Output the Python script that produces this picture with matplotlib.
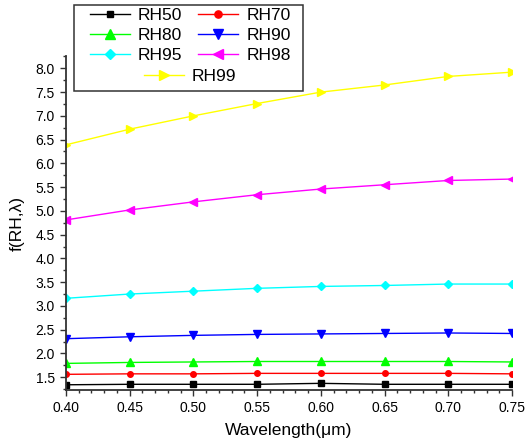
import numpy as np
import matplotlib
matplotlib.use("Agg")
import matplotlib.pyplot as plt
from matplotlib.patches import Rectangle
from matplotlib.ticker import MultipleLocator

plt.rcParams['font.family'] = ['Liberation Sans', 'DejaVu Sans']

# wavelength in micrometres
wavelength = [0.40, 0.45, 0.50, 0.55, 0.60, 0.65, 0.70, 0.75]

rh50 = [1.34, 1.35, 1.35, 1.35, 1.37, 1.35, 1.35, 1.35]
rh70 = [1.56, 1.57, 1.57, 1.58, 1.58, 1.58, 1.58, 1.57]
rh80 = [1.79, 1.81, 1.82, 1.83, 1.83, 1.83, 1.83, 1.82]
rh90 = [2.31, 2.35, 2.38, 2.40, 2.41, 2.42, 2.43, 2.42]
rh95 = [3.16, 3.25, 3.31, 3.37, 3.41, 3.43, 3.46, 3.46]
rh98 = [4.81, 5.02, 5.19, 5.34, 5.46, 5.55, 5.64, 5.67]
rh99 = [6.39, 6.72, 7.00, 7.26, 7.50, 7.65, 7.83, 7.92]

labels = ['RH50', 'RH70', 'RH80', 'RH90', 'RH95', 'RH98', 'RH99']
series = [rh50, rh70, rh80, rh90, rh95, rh98, rh99]
colors = ['#000000', '#ff0000', '#00ff00', '#0000ff', '#00ffff', '#ff00ff', '#ffff00']
markers = ['s', 'o', '^', 'v', 'D', '<', '>']
msizes = [3.8, 4.0, 5.6, 5.8, 4.2, 5.8, 5.8]

W, H = 529, 444
fig = plt.figure(figsize=(W / 100, H / 100), dpi=100)
ax = fig.add_axes([66 / W, 1 - 390 / H, (512 - 66) / W, (390 - 56) / H])

lines = []
for y, lab, c, m, ms in zip(series, labels, colors, markers, msizes):
    ln, = ax.plot(wavelength, y, color=c, marker=m, markersize=ms,
                  linewidth=1.0, label=lab)
    lines.append(ln)

ax.set_xlim(0.40, 0.75)
ax.set_ylim(1.23, 8.26)
ax.xaxis.set_major_locator(MultipleLocator(0.05))
ax.xaxis.set_minor_locator(MultipleLocator(0.01))
ax.yaxis.set_major_locator(MultipleLocator(0.5))
ax.yaxis.set_minor_locator(MultipleLocator(0.25))
ax.xaxis.set_major_formatter(plt.FormatStrFormatter('%.2f'))
ax.yaxis.set_major_formatter(plt.FormatStrFormatter('%.1f'))

for s in ['top', 'right']:
    ax.spines[s].set_visible(False)
for s in ['left', 'bottom']:
    ax.spines[s].set_linewidth(1.3)
    ax.spines[s].set_color('#333333')
ax.tick_params(which='major', direction='out', length=4.5, width=1.0,
               labelsize=10, color='#333333')
ax.tick_params(which='minor', direction='out', length=2.5, width=1.0,
               color='#333333')

ax.set_xlabel('Wavelength(μm)', fontsize=12.5, labelpad=6)
ax.set_ylabel('f(RH,λ)', fontsize=12.5, labelpad=8)

# legend: six entries in two columns, RH99 centred underneath, one shared frame
fig.patches.append(Rectangle((74 / W, 1 - 91 / H), 229 / W, 86 / H,
                             transform=fig.transFigure, facecolor='white',
                             edgecolor='#333333', linewidth=1.1, zorder=1))
order = [0, 2, 4, 1, 3, 5]
leg_kw = dict(frameon=False, fontsize=12.5, handlelength=2.3, handletextpad=0.46,
              borderpad=0, borderaxespad=0, labelspacing=0.3, markerscale=1.3)
fig.legend([lines[i] for i in order], [labels[i] for i in order], ncol=2,
           columnspacing=0.92, loc='upper left',
           bbox_to_anchor=(90 / W, 1 - 7.5 / H), **leg_kw)
fig.legend([lines[6]], [labels[6]], loc='upper left',
           bbox_to_anchor=(144 / W, 1 - 68.5 / H), **leg_kw)

fig.savefig('out.png', dpi=100)
